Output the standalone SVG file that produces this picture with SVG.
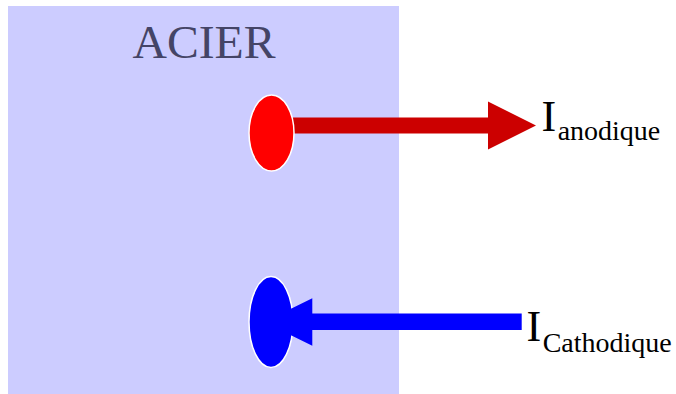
<svg xmlns="http://www.w3.org/2000/svg" width="676" height="394" viewBox="0 0 676 394">
<style>
.serif{font-family:"Liberation Serif","DejaVu Serif",serif}
.lbl{fill:#000;font-size:44px}
.sub{font-size:28px}
.node{stroke:#fff;stroke-width:1.5}
</style>
<rect width="676" height="394" fill="#fff"/>
<g id="acier">
<rect x="8" y="6" width="391" height="390" fill="#ccccff"/>
<text class="serif" x="204" y="58" text-anchor="middle" font-size="47" fill="#444466" textLength="143" lengthAdjust="spacingAndGlyphs">ACIER</text>
</g>
<g id="connectors">
<path d="M280 117.5 H488 V101.5 L536 125.5 L488 149.5 V133.5 H280 Z" fill="#cc0000"/>
</g>
<g id="anode">
<ellipse class="node" cx="271.5" cy="133" rx="22.5" ry="38" fill="#ff0000"/>
</g>
<g id="cathode">
<ellipse class="node" cx="271" cy="322" rx="22" ry="45.5" fill="#0000ff"/>
</g>
<g id="connectors2">
<path d="M521.7 313.5 H312.3 V298.3 L264 322 L312.3 345.7 V330 H521.7 Z" fill="#0000ff"/>
</g>
<g id="label-anodique">
<text class="serif lbl" x="541.5" y="130.5">I<tspan class="sub" dx="1.5" dy="9">anodique</tspan></text>
</g>
<g id="label-cathodique">
<text class="serif lbl" x="526.5" y="340.7">I<tspan class="sub" dx="1.5" dy="11">Cathodique</tspan></text>
</g>
</svg>
